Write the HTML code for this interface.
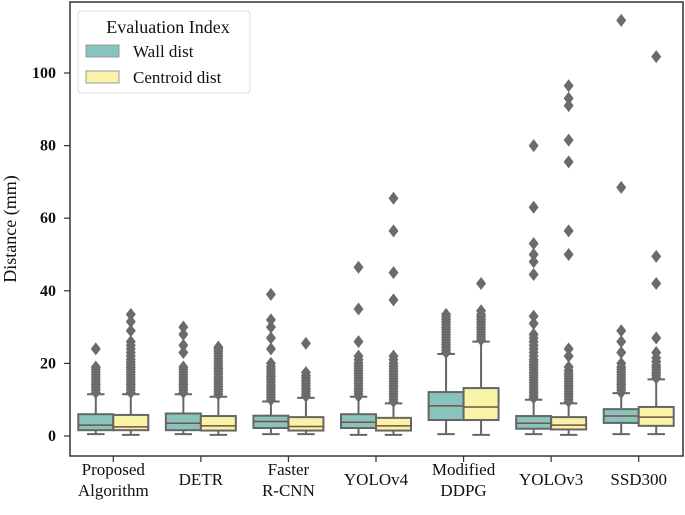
<!DOCTYPE html>
<html><head><meta charset="utf-8"><style>
body{margin:0;background:#fff;width:685px;height:510px;overflow:hidden}
svg{font-family:"Liberation Serif",serif}
</style></head><body>
<svg id="chart" width="685" height="510" viewBox="0 0 685 510"></svg>
<script>
const categories=["Proposed|Algorithm","DETR","Faster|R-CNN","YOLOv4","Modified|DDPG","YOLOv3","SSD300"];
const seriesNames=["Wall dist","Centroid dist"];
const yTicks=[0,20,40,60,80,100];
// [whiskerLow, q1, median, q3, whiskerHigh]
const wallStats=[[0.5,1.6,3,6,11.5],[0.5,1.6,3.5,6.2,11.5],[0.5,2.2,4,5.6,9.5],[0.3,2.2,3.8,6,10.8],[0.5,4.4,8.3,12.1,22.6],[0.5,2,3.5,5.5,10],[0.5,3.6,5.5,7.4,11.8]];
const centStats=[[0.3,1.6,2.5,5.8,11.5],[0.3,1.5,2.8,5.5,10.8],[0.5,1.5,2.6,5.2,10.5],[0.3,1.5,2.8,5,9],[0.3,4.4,8,13.2,26],[0.3,1.8,3,5.2,9],[0.5,2.8,5.2,8,15.6]];
const wallOut=[
[12,12.7,13.4,14.1,14.8,15.5,16.2,16.9,17.6,18.3,19,24],
[12,12.7,13.4,14.1,14.8,15.5,16.2,16.9,17.6,18.3,19,23,25,28,30],
[10,10.7,11.4,12.1,12.8,13.5,14.2,14.9,15.6,16.3,17,17.7,18.4,19.1,20,24,27,30,32,39],
[11,11.7,12.4,13.1,13.8,14.5,15.2,15.9,16.6,17.3,18,18.7,19.4,20.1,21,22,26,35,46.5],
[23,23.7,24.4,25.1,25.8,26.5,27.2,27.9,28.6,29.3,30,30.7,31.4,32.1,32.8,33.5],
[10.5,11.2,11.9,12.6,13.3,14,14.7,15.4,16.1,16.8,17.5,18.2,18.9,19.6,20.3,21,22,23,24,25,26,27,28,31,33,44.5,48,50,53,63,80],
[12,12.7,13.4,14.1,14.8,15.5,16.2,16.9,17.6,18.3,19,20,23,26,29,68.5,114.5]];
const centOut=[
[12,12.7,13.4,14.1,14.8,15.5,16.2,16.9,17.6,18.3,19,19.7,20.4,21.1,22,23,24,25,26,29,31.5,33.5],
[11.5,12.2,12.9,13.6,14.3,15,15.7,16.4,17.1,17.8,18.5,19.2,19.9,20.6,21.3,22,22.7,23.4,24,24.5],
[11,11.7,12.4,13.1,13.8,14.5,15.2,15.9,16.6,17.5,25.5],
[9.5,10.2,10.9,11.6,12.3,13,13.7,14.4,15.1,15.8,16.5,17.2,17.9,18.6,19.3,20,21,22,37.5,45,56.5,65.5],
[26.5,27.2,27.9,28.6,29.3,30,30.7,31.4,32.1,32.8,33.5,34.5,42],
[9.5,10.2,10.9,11.6,12.3,13,13.7,14.4,15.1,15.8,16.5,17.2,18,19,22,24,50,56.5,75.5,81.5,91,93,96.5],
[16,16.7,17.4,18.1,18.8,19.5,20.5,21.5,23,27,42,49.5,104.5]];

const NS="http://www.w3.org/2000/svg";
const svg=document.getElementById('chart');
function mk(tag,attrs,parent){const e=document.createElementNS(NS,tag);for(const k in attrs)e.setAttribute(k,attrs[k]);(parent||svg).appendChild(e);return e;}
const L=70,R=683,T=2,B=456;
const yS=v=>436-v*3.63;
const step=(R-L)/categories.length;
const xS=i=>L+step*(i+0.5)-0.5;
const bw=35;
const fills=["#88c4bd","#f8f3a6"];

const frame=mk('rect',{x:L,y:T,width:R-L,height:B-T,fill:"none",stroke:"#333","stroke-width":1.5});



yTicks.forEach(v=>{
  const g=mk('g',{});
  
  
  mk('line',{x1:L-6,x2:L,y1:yS(v),y2:yS(v),stroke:"#333","stroke-width":1.2},g);
  const t=mk('text',{x:L-14,y:yS(v)+5,"text-anchor":"end","font-size":16,"font-weight":"bold",fill:"#111"},g);
  t.textContent=v;
});
const yt=mk('text',{x:0,y:0,transform:"translate(16,229) rotate(-90)","text-anchor":"middle","font-size":18,fill:"#111"});
yt.textContent="Distance (mm)";



categories.forEach((c,i)=>{
  const g=mk('g',{});
  
  
  mk('line',{x1:xS(i),x2:xS(i),y1:B,y2:B+6,stroke:"#333","stroke-width":1.2},g);
  const lines=c.split('|');
  lines.forEach((ln,j)=>{
    const y=lines.length===1?485:475+j*21;
    const t=mk('text',{x:xS(i),y:y,"text-anchor":"middle","font-size":17,fill:"#111"},g);
    t.textContent=ln;
  });
});

function drawBox(i,s,stats,outs){
  const cx=xS(i)+(s===0?-bw/2:bw/2);
  const [lo,q1,md,q3,hi]=stats;
  const g=mk('g',{});
  
  
  mk('line',{x1:cx,x2:cx,y1:yS(hi),y2:yS(q3),stroke:"#666","stroke-width":2},g);
  mk('line',{x1:cx,x2:cx,y1:yS(q1),y2:yS(lo),stroke:"#666","stroke-width":2},g);
  mk('line',{x1:cx-bw/4,x2:cx+bw/4,y1:yS(hi),y2:yS(hi),stroke:"#666","stroke-width":2},g);
  mk('line',{x1:cx-bw/4,x2:cx+bw/4,y1:yS(lo),y2:yS(lo),stroke:"#666","stroke-width":2},g);
  mk('rect',{x:cx-bw/2,y:yS(q3),width:bw,height:yS(q1)-yS(q3),fill:fills[s],stroke:"#666","stroke-width":2},g);
  mk('line',{x1:cx-bw/2,x2:cx+bw/2,y1:yS(md),y2:yS(md),stroke:"#7a5040","stroke-width":1.5},g);
  outs.forEach(v=>{
    const y=yS(v);
    mk('path',{d:`M${cx} ${y-6.5}L${cx+5} ${y}L${cx} ${y+6.5}L${cx-5} ${y}Z`,fill:"#6b6b6b"},g);
  });
}
categories.forEach((c,i)=>{drawBox(i,0,wallStats[i],wallOut[i]);drawBox(i,1,centStats[i],centOut[i]);});

const lg=mk('g',{});


mk('rect',{x:78,y:11,width:172,height:82,rx:3,fill:"#fff",stroke:"#ddd"},lg);
const lt=mk('text',{x:168,y:33,"text-anchor":"middle","font-size":18,fill:"#111"},lg);
lt.textContent="Evaluation Index";
seriesNames.forEach((n,k)=>{
  const e=mk('g',{},lg);
  
  
  mk('rect',{x:86,y:45+k*26,width:33,height:12,fill:fills[k],stroke:"#999"},e);
  const t=mk('text',{x:133,y:57+k*26,"font-size":17,fill:"#111"},e);
  t.textContent=n;
});
</script>
</body></html>
